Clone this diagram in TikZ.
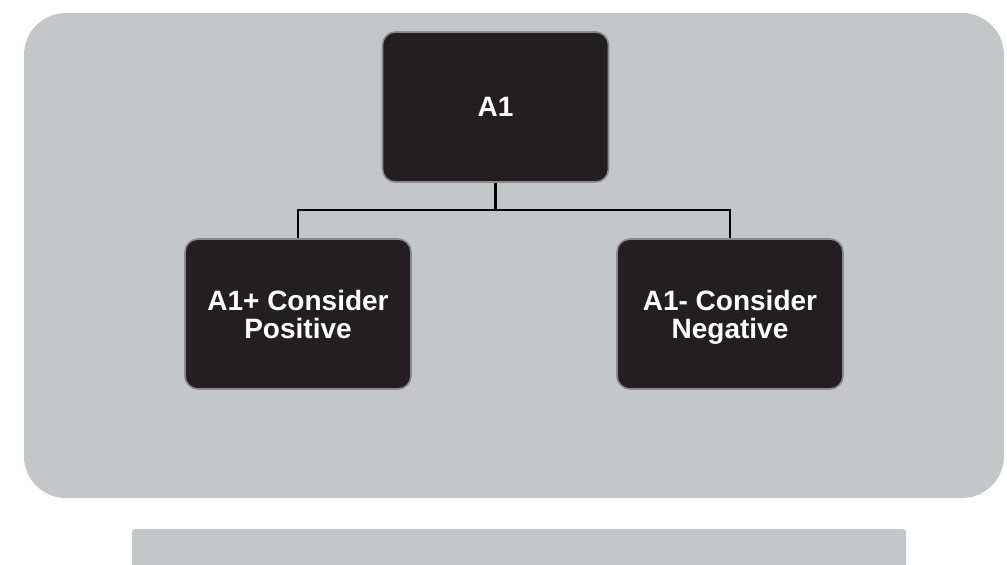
\documentclass[tikz,border=0pt]{standalone}
\usepackage{fontspec}
\setmainfont{Liberation Sans}
\usepackage{tikz}

\definecolor{panelgrey}{HTML}{C5C6C8}
\definecolor{boxblack}{HTML}{231F20}
\definecolor{rimgrey}{HTML}{8A8A8C}

\begin{document}
\begin{tikzpicture}[x=0.5pt, y=-0.5pt,
  panel/.style={fill=panelgrey, draw=none},
  choicebox/.style={rectangle, rounded corners=6.5pt, fill=boxblack, draw=rimgrey,
    line width=0.8pt, text=white, align=center, minimum width=113pt, minimum height=75pt,
    font=\bfseries\fontsize{14}{14}\selectfont, text depth=0pt},
  branch/.style={draw=black, line width=1.3pt}]
\useasboundingbox (0,0) rectangle (1007,564);
\fill[panel, rounded corners=21pt] (24,13) rectangle (1004,498);
\fill[panel, rounded corners=1.5pt] (132,529) rectangle (906,570);
\node[choicebox] (a1) at (495.5,107) {A1};
\node[choicebox] (pos) at (298,314) {A1+ Consider\\Positive};
\node[choicebox] (neg) at (730,314) {A1- Consider\\Negative};
\coordinate (fork) at (495.5,210);
\draw[branch] (a1.south) -- (fork);
\draw[branch] (pos.north) |- (fork) -| (neg.north);
\end{tikzpicture}
\end{document}
